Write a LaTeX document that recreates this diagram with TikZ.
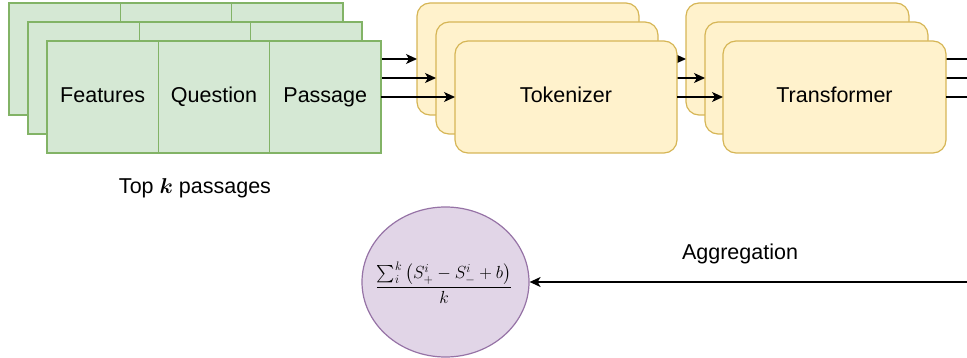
\RequirePackage{fix-cm}
\documentclass[tikz,border=0pt]{standalone}
\usepackage{amsmath}
\usepackage{fontspec}
\setmainfont{Liberation Sans}
\usetikzlibrary{arrows.meta,shapes.geometric}

\definecolor{cellfill}{HTML}{D5E8D4}
\definecolor{cellline}{HTML}{82B366}
\definecolor{stagefill}{HTML}{FFF2CC}
\definecolor{stageline}{HTML}{D6B656}
\definecolor{aggfill}{HTML}{E1D5E7}
\definecolor{aggline}{HTML}{9673A6}

\begin{document}
\begin{tikzpicture}[x=1pt,y=-1pt,
  every node/.style={font=\fontsize{21.5}{26}\selectfont},
  cell/.style={draw=cellline, fill=cellfill, line width=1.2pt,
    minimum width=111.3pt, minimum height=112pt, inner sep=0pt, outer sep=0pt,
    text height=15.4pt, text depth=4.5pt},
  stage/.style={draw=stageline, fill=stagefill, line width=1.2pt, rounded corners=13pt,
    minimum width=222pt, minimum height=112pt, inner sep=0pt, outer sep=0pt,
    text height=15.4pt, text depth=4.5pt},
  flow/.style={line width=1.3pt, -{Stealth[length=11pt,width=10pt,inset=3pt]}},
  wire/.style={line width=1.3pt}]

\useasboundingbox (0,0) rectangle (967,358);

% stacked copies behind the front row, each with its own connectors
\foreach \n/\d in {back/0, mid/19} {
  \node[cell] (feat-\n) at (64.65+\d, 59+\d) {};
  \node[cell] (ques-\n) at (175.95+\d, 59+\d) {};
  \node[cell] (pass-\n) at (287.25+\d, 59+\d) {};
  \node[stage] (tok-\n) at (528+\d, 59+\d) {};
  \node[stage, minimum width=223pt] (trf-\n) at (797.5+\d, 59+\d) {};
  \coordinate (out-\n) at (967, 59+\d);
  \draw[flow] (pass-\n) -- (tok-\n);
  \draw[flow] (tok-\n) -- (trf-\n);
  \draw[wire] (trf-\n) -- (out-\n);
}

% front row
\node[cell] (feat-front) at (102.65, 97) {Features};
\node[cell] (ques-front) at (213.95, 97) {Question};
\node[cell] (pass-front) at (325.25, 97) {Passage};
\node[stage] (tok-front) at (566, 97) {Tokenizer};
\node[stage, minimum width=223pt] (trf-front) at (834.5, 97) {Transformer};
\coordinate (out-front) at (967, 97);
\draw[flow] (pass-front) -- (tok-front);
\draw[flow] (tok-front) -- (trf-front);
\draw[wire] (trf-front) -- (out-front);

\node (topk) at (195, 188) {Top $\boldsymbol{k}$ passages};

% aggregation of the per-passage scores
\node[ellipse, draw=aggline, fill=aggfill, line width=1.2pt,
  minimum width=167pt, minimum height=150pt, inner sep=0pt] (agg) at (445.5, 282) {};
\node[font=\fontsize{17.5}{22}\selectfont, inner sep=0pt] (aggtext) at (444, 283)
  {$\displaystyle\frac{\sum_i^k \,\bigl(S_+^i - S_-^i + b\bigr)}{k}$};
\coordinate (aggin) at (967, 282);
\draw[flow] (aggin) -- (agg);
\node (agglabel) at (740, 254) {Aggregation};

\end{tikzpicture}
\end{document}
